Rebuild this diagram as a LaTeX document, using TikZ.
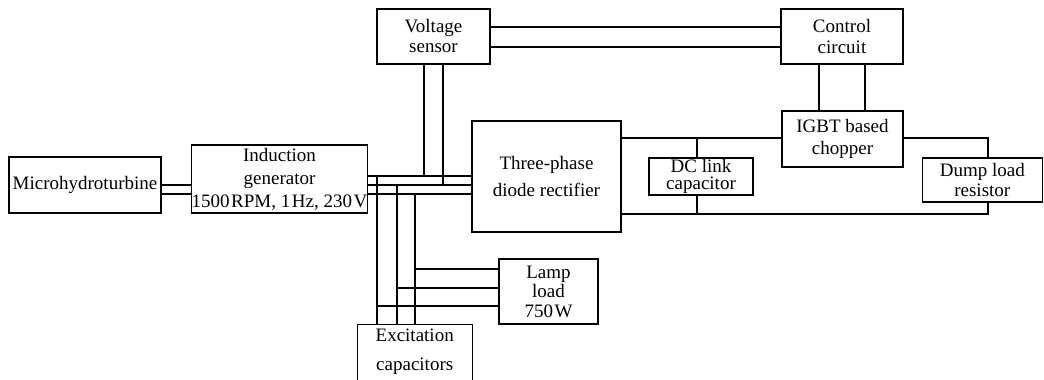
\documentclass[tikz,border=0pt]{standalone}
\usepackage{fontspec}
\setmainfont{Liberation Serif}
\usetikzlibrary{calc}

\tikzset{
  blk/.style={draw, inner sep=0pt, align=center, font=\fontsize{19}{#1}\selectfont},
}

\begin{document}
\begin{tikzpicture}[x=1pt, y=-1pt, line width=1.1pt]
\useasboundingbox (0,0) rectangle (1044,380);
\clip (0,0) rectangle (1044,380);
% blocks
\node[blk=24, minimum width=152pt, minimum height=56pt] (turb) at (85,185) {Microhydroturbine};
\node[blk=23, minimum width=175pt, minimum height=68pt] (gen) at (279.5,179)
  {Induction\\generator\\1500\kern1.5pt RPM, 1\kern1.5pt Hz, 230\kern1.5pt V};
\node[blk=20, minimum width=113pt, minimum height=55pt] (vs) at (433.5,36.5) {Voltage\\sensor};
\node[blk=21, minimum width=122pt, minimum height=55pt] (ctrl) at (842,36.5) {Control\\circuit};
\node[blk=27, minimum width=149pt, minimum height=111pt] (rect) at (546.5,176.5) {Three-phase\\diode rectifier};
\node[blk=22, minimum width=121pt, minimum height=56pt] (igbt) at (842.5,139) {IGBT based\\chopper};
\node[blk=17, minimum width=104pt, minimum height=37pt] (dcl) at (701,176.5) {DC link\\capacitor};
\node[blk=20, minimum width=120pt, minimum height=44pt] (dump) at (982.3,180) {Dump load\\resistor};
\node[blk=19.5, minimum width=99pt, minimum height=65pt] (lamp) at (548.5,291.5) {Lamp\\load\\750\kern1.5pt W};
\node[blk=29, draw=none, minimum width=114pt, minimum height=54pt] (exc) at (414.7,352) {Excitation\\capacitors};
% open box, cut by the page edge
\draw ([yshift=-10pt]exc.south west) |- (exc.north east) -- ([yshift=-10pt]exc.south east);

% line levels
\coordinate (pa) at (0,176);
\coordinate (pb) at (0,185);
\coordinate (pc) at (0,194);
\coordinate (la) at (0,306);
\coordinate (lb) at (0,288);
\coordinate (lc) at (0,269);
\coordinate (ca) at (0,27);
\coordinate (cb) at (0,47);
\coordinate (bt) at (0,138);
\coordinate (bb) at (0,214);
% tap columns
\coordinate (ga) at (377,0);
\coordinate (gb) at (397,0);
\coordinate (gc) at (415,0);
\coordinate (va) at (424,0);
\coordinate (vb) at (443,0);
\coordinate (ka) at (819,0);
\coordinate (kb) at (865,0);
\coordinate (dl) at (697,0);
\coordinate (dr) at (988,0);

% shaft and three-phase lines
\foreach \p in {pb,pc}
  \draw (turb.east |- \p) -- (gen.west |- \p);
\foreach \p in {pa,pb,pc}
  \draw (gen.east |- \p) -- (rect.west |- \p);
% excitation and lamp load taps
\foreach \g/\p/\l in {ga/pa/la, gb/pb/lb, gc/pc/lc}{
  \draw (\g |- \p) -- (\g |- exc.north);
  \draw (\g |- \l) -- (lamp.west |- \l);
}
% voltage sensing and control
\draw (vs.south -| va) -- (va |- pa);
\draw (vs.south -| vb) -- (vb |- pb);
\foreach \c in {ca,cb}
  \draw (vs.east |- \c) -- (ctrl.west |- \c);
\foreach \k in {ka,kb}
  \draw (ctrl.south -| \k) -- (igbt.north -| \k);
% dc side
\draw (rect.east |- bt) -- (igbt.west |- bt);
\draw (igbt.east |- bt) -| (dump.north -| dr);
\draw (rect.east |- bb) -| (dump.south -| dr);
\draw (dcl.north -| dl) -- (dl |- bt);
\draw (dcl.south -| dl) -- (dl |- bb);
\end{tikzpicture}
\end{document}
